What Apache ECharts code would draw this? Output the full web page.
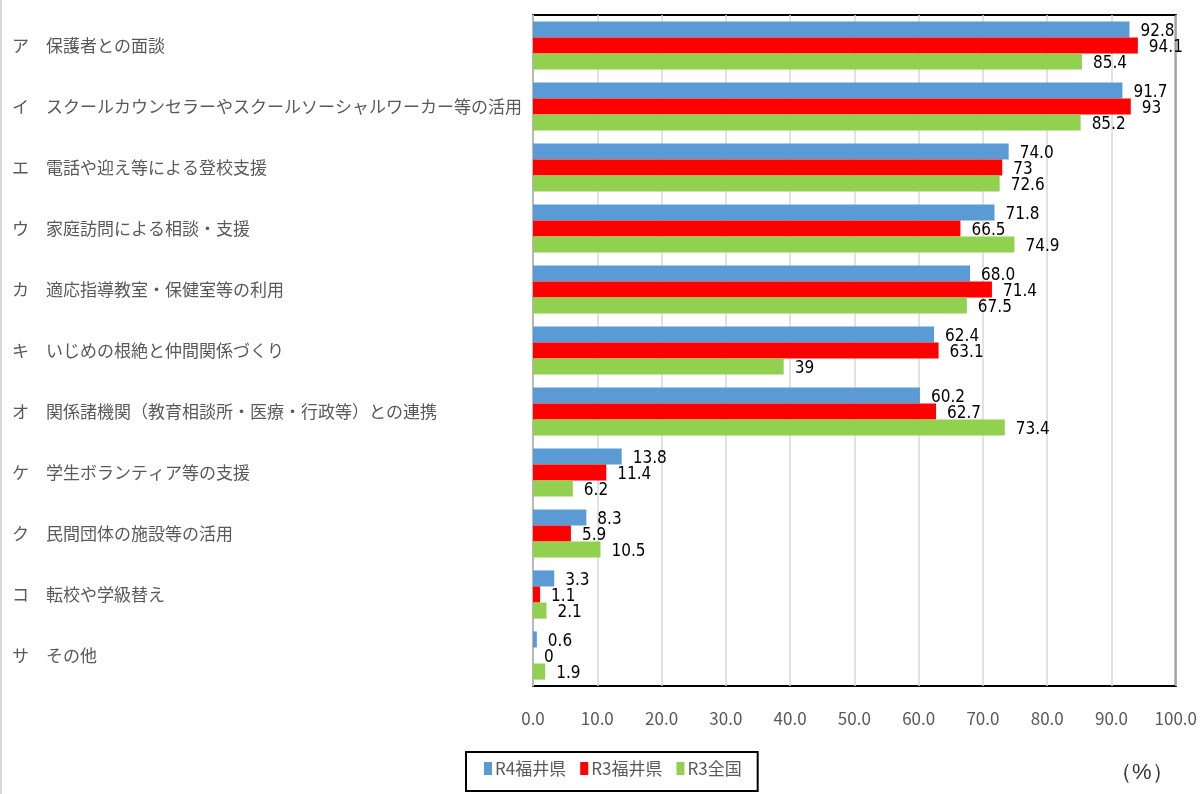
<!DOCTYPE html>
<html lang="ja">
<head>
<meta charset="UTF-8">
<script src="https://cdn.jsdelivr.net/npm/echarts@6/dist/echarts.min.js"></script>
<style>
  html, body { margin: 0; padding: 0; background: #fff; }
  #chart { width: 1200px; height: 794px; }
</style>
</head>
<body>
<div id="chart"></div>
<script>
// 項目（上から順）
var categories = [
    'ア　保護者との面談',
    'イ　スクールカウンセラーやスクールソーシャルワーカー等の活用',
    'エ　電話や迎え等による登校支援',
    'ウ　家庭訪問による相談・支援',
    'カ　適応指導教室・保健室等の利用',
    'キ　いじめの根絶と仲間関係づくり',
    'オ　関係諸機関（教育相談所・医療・行政等）との連携',
    'ケ　学生ボランティア等の支援',
    'ク　民間団体の施設等の活用',
    'コ　転校や学級替え',
    'サ　その他'
];
var r4Fukui = [92.8, 91.7, 74.0, 71.8, 68.0, 62.4, 60.2, 13.8, 8.3, 3.3, 0.6];
var r3Fukui = [94.1, 93, 73, 66.5, 71.4, 63.1, 62.7, 11.4, 5.9, 1.1, 0];
var r3Zenkoku = [85.4, 85.2, 72.6, 74.9, 67.5, 39, 73.4, 6.2, 10.5, 2.1, 1.9];
var xTicks = [0, 10, 20, 30, 40, 50, 60, 70, 80, 90, 100];

var seriesNames = ['R4福井県', 'R3福井県', 'R3全国'];
var colors = ['#5B9BD5', '#FF0000', '#92D050'];

var chart = echarts.init(document.getElementById('chart'));

function mkSeries(name, data, color, fmt) {
    return {
        name: name,
        type: 'bar',
        data: data,
        barGap: '0%',
        barCategoryGap: '21%',
        itemStyle: { color: color },
        label: {
            show: true,
            position: 'right',
            distance: 11,
            offset: [0, 2],
            color: '#000',
            fontSize: 17,
            fontWeight: 500,
            fontFamily: 'DejaVu Sans Condensed, Liberation Sans, sans-serif',
            formatter: function (p) { return fmt(p.value); }
        }
    };
}

chart.setOption({
    animation: false,
    textStyle: { fontFamily: 'Noto Sans CJK JP, sans-serif' },
    grid: {
        left: 533, right: 20, top: 15, bottom: 108,
        show: true, borderColor: '#000', borderWidth: 2
    },
    legend: {
        data: seriesNames,
        left: 466, top: 752,
        borderColor: '#000', borderWidth: 2,
        padding: [8, 16, 14, 18],
        itemWidth: 8, itemHeight: 13, itemGap: 14,
        icon: 'rect',
        textStyle: { color: '#595959', fontSize: 17, padding: [0, 0, 0, -2] }
    },
    xAxis: {
        type: 'value',
        min: xTicks[0],
        max: xTicks[xTicks.length - 1],
        interval: 10,
        axisLine: { show: false },
        axisTick: { show: false },
        splitLine: { lineStyle: { color: '#D9D9D9', width: 1.5 } },
        axisLabel: {
            color: '#595959', fontSize: 17, margin: 24,
            formatter: function (v) { return v.toFixed(1); }
        }
    },
    yAxis: {
        type: 'category',
        data: categories,
        inverse: true,
        axisLine: { show: true, lineStyle: { color: '#BFBFBF', width: 1.5 } },
        axisTick: { show: false },
        axisLabel: {
            color: '#595959', fontSize: 17, align: 'left', margin: 521
        }
    },
    graphic: [
        { type: 'text', left: 1110, top: 762, style: { text: '（%）', fill: '#333', fontSize: 22 } },
        { type: 'line', shape: { x1: 1, y1: 0, x2: 1, y2: 794 }, style: { stroke: '#D9D9D9', lineWidth: 2 } }
    ],
    series: [
        mkSeries(seriesNames[0], r4Fukui, colors[0], function (v) { return v.toFixed(1); }),
        mkSeries(seriesNames[1], r3Fukui, colors[1], function (v) { return String(v); }),
        mkSeries(seriesNames[2], r3Zenkoku, colors[2], function (v) { return String(v); })
    ]
});
</script>
</body>
</html>
